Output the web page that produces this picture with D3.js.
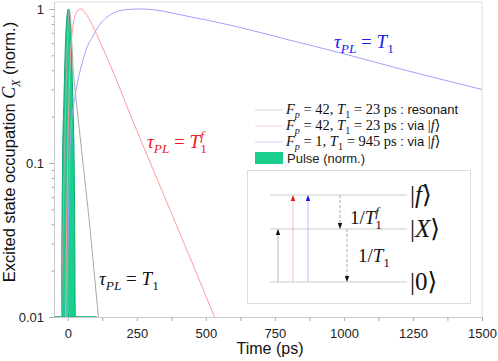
<!DOCTYPE html>
<html>
<head>
<meta charset="utf-8">
<script src="https://cdn.jsdelivr.net/npm/d3@7"></script>
<style>
body { margin: 0; background: #fff; }
</style>
</head>
<body>
<div id="chart"></div>
<script>
// values (time in ps, normalised occupation)
var pulseT = [-50, -25, -23, -21, -19, -14, -8, -3, 2, 7, 12, 18, 23, 25, 27, 29, 105];
var pulseV = [1e-7, 0.002, 0.01, 0.04, 0.1, 0.26, 0.63, 0.9, 1.0, 0.9, 0.63, 0.26, 0.1, 0.04, 0.01, 0.002, 1e-7];

var grayT = [-50, -25, -20, -15, -10, -5, 0, 6, 10, 14, 18, 24, 30, 50, 76, 111, 130];
var grayV = [1e-6, 0.006, 0.02, 0.06, 0.16, 0.38, 0.72, 1.0, 0.86, 0.64, 0.45, 0.33, 0.26, 0.12, 0.045, 0.01, 0.0046];

var redT = [-20, -10, -5, 0, 5, 10, 16, 24, 34, 48, 62, 79, 115, 175, 234, 299, 400, 531, 560];
var redV = [0.0005, 0.005, 0.03, 0.12, 0.29, 0.52, 0.71, 0.87, 0.97, 1.0, 0.95, 0.85, 0.62, 0.35, 0.19, 0.1, 0.037, 0.01, 0.0074];

var blueT = [-10, -3, 2, 6, 12, 20, 30, 42, 54, 67, 90, 115, 151, 211, 260, 307, 417, 513, 622, 800, 985, 1200, 1500];
var blueV = [0.001, 0.01, 0.04, 0.09, 0.17, 0.23, 0.3, 0.38, 0.46, 0.55, 0.66, 0.79, 0.91, 0.99, 1.0, 0.99, 0.91, 0.84, 0.76, 0.63, 0.52, 0.41, 0.3];

var xTicks = [0, 250, 500, 750, 1000, 1250, 1500];
var xMinor = [125, 375, 625, 875, 1125, 1375];
var yTicks = [0.01, 0.1, 1];
var yTickLabels = ['0.01', '0.1', '1'];
var yMinor = [0.02, 0.03, 0.04, 0.05, 0.06, 0.07, 0.08, 0.09, 0.2, 0.3, 0.4, 0.5, 0.6, 0.7, 0.8, 0.9];

var width = 498, height = 361,
    margin = { top: 2, right: 16, bottom: 44, left: 54 },
    serif = '"Liberation Serif", "DejaVu Serif", serif',
    sans = '"Liberation Sans", Arial, sans-serif';

var chartWidth = width - margin.left - margin.right,
    chartHeight = height - margin.top - margin.bottom;

var x = d3.scaleLinear().domain([-50, 1500]).range([0, chartWidth]);
var y = d3.scaleLog().domain([0.01, 1.11]).range([chartHeight, 0]);
var yClamp = y.copy().clamp(true);

function zip(ts, vs) {
    return ts.map(function (t, i) { return { t: t, v: vs[i] }; });
}

// builds a text made of roman / italic / sub / sup pieces
function mathText(parent, px, py, size, color, parts, anchor) {
    var t = parent.append('text')
        .attr('x', px).attr('y', py)
        .attr('fill', color)
        .attr('text-anchor', anchor || 'start')
        .style('font-size', size + 'px');
    var base = 0, lastW = 0;
    parts.forEach(function (p) {
        var off = p.sub ? size * 0.28 : (p.sup ? -size * 0.42 : 0);
        var fs = p.fs ? p.fs : ((p.sub || p.sup) ? size * 0.7 : size);
        var s = t.append('tspan')
            .attr('dy', off - base)
            .style('font-size', fs + 'px')
            .style('font-family', p.sans ? sans : serif)
            .style('font-style', p.i ? 'italic' : 'normal')
            .text(p.t);
        if (p.stack) s.attr('dx', -lastW);
        base = off;
        lastW = s.node().getComputedTextLength();
    });
    return t;
}

var svg = d3.select('#chart').append('svg')
    .attr('width', width)
    .attr('height', height);

svg.append('defs').append('clipPath').attr('id', 'plotClip')
    .append('rect').attr('width', chartWidth).attr('height', chartHeight);

var g = svg.append('g')
    .attr('transform', 'translate(' + margin.left + ',' + margin.top + ')');

// frame top / right
g.append('path')
    .attr('d', 'M0,0H' + chartWidth + 'V' + chartHeight)
    .attr('fill', 'none').attr('stroke', '#dddddd');

// axes
var xAxis = d3.axisBottom(x).tickValues(xTicks).tickSize(4).tickPadding(8).tickSizeOuter(0)
    .tickFormat(d3.format('d'));
var xAxisMinor = d3.axisBottom(x).tickValues(xMinor).tickSize(4).tickFormat('').tickSizeOuter(0);
var yAxis = d3.axisLeft(y).tickValues(yTicks).tickSize(5).tickPadding(5).tickSizeOuter(0)
    .tickFormat(function (d, i) { return yTickLabels[i]; });
var yAxisMinor = d3.axisLeft(y).tickValues(yMinor).tickSize(2.5).tickFormat('').tickSizeOuter(0);

[[xAxis, 'x'], [xAxisMinor, 'x'], [yAxis, 'y'], [yAxisMinor, 'y']].forEach(function (a) {
    var ax = g.append('g')
        .attr('transform', a[1] == 'x' ? 'translate(0,' + chartHeight + ')' : null)
        .call(a[0]);
    ax.select('.domain').attr('stroke', '#cccccc');
    ax.selectAll('.tick line').attr('stroke', '#aaaaaa');
    ax.selectAll('.tick text').attr('fill', '#222').style('font-family', sans).style('font-size', '13px');
});

// pulse
var plot = g.append('g').attr('clip-path', 'url(#plotClip)');

var area = d3.area()
    .x(function (d) { return x(d.t); })
    .y0(chartHeight)
    .y1(function (d) { return yClamp(d.v); })
    .curve(d3.curveMonotoneX);

plot.append('path')
    .datum(zip(pulseT, pulseV))
    .attr('d', area)
    .attr('fill', '#19cf8b')
    .attr('stroke', '#0aa872')
    .attr('stroke-width', 1);

var line = d3.line()
    .x(function (d) { return x(d.t); })
    .y(function (d) { return y(d.v); })
    .curve(d3.curveMonotoneX);

var curves = [
    { t: grayT, v: grayV, color: '#a8a8a8' },
    { t: redT, v: redV, color: '#ff9a9a' },
    { t: blueT, v: blueV, color: '#a0a0ff' }
];

plot.selectAll('path.curve').data(curves).enter()
    .append('path')
    .attr('class', 'curve')
    .attr('d', function (d) { return line(zip(d.t, d.v)); })
    .attr('fill', 'none')
    .attr('stroke', function (d) { return d.color; })
    .attr('stroke-width', 1);

// annotations
var tauPL = [{ t: '\u03c4', i: true }, { t: 'PL', i: true, sub: true }, { t: '\u00a0=\u00a0' }, { t: 'T', i: true }, { t: '1', sub: true }];
mathText(svg, 334, 48, 19, '#1a1aee', tauPL);
mathText(svg, 147, 148, 19, '#ee1a1a', tauPL.concat([{ t: 'f', i: true, sup: true, stack: true }]));
mathText(svg, 99, 285, 19, '#111', tauPL);

// legend
var legendRows = [
    { color: '#d4d4d4', parts: [{ t: 'F', i: true }, { t: 'p', i: true, sub: true }, { t: '\u00a0=\u00a042,\u00a0' }, { t: 'T', i: true }, { t: '1', sub: true }, { t: '\u00a0=\u00a023\u00a0ps' }, { t: ' : resonant', sans: true, fs: 13 }] },
    { color: '#ffcfcf', parts: [{ t: 'F', i: true }, { t: 'p', i: true, sub: true }, { t: '\u00a0=\u00a042,\u00a0' }, { t: 'T', i: true }, { t: '1', sub: true }, { t: '\u00a0=\u00a023\u00a0ps' }, { t: ' : via ', sans: true, fs: 13 }, { t: '|' }, { t: 'f', i: true }, { t: '\u27e9' }] },
    { color: '#cfcfff', parts: [{ t: 'F', i: true }, { t: 'p', i: true, sub: true }, { t: '\u00a0=\u00a01,\u00a0' }, { t: 'T', i: true }, { t: '1', sub: true }, { t: '\u00a0=\u00a0945\u00a0ps' }, { t: ' : via ', sans: true, fs: 13 }, { t: '|' }, { t: 'f', i: true }, { t: '\u27e9' }] }
];

legendRows.forEach(function (r, i) {
    var ly = 110 + i * 16;
    svg.append('line')
        .attr('x1', 255).attr('x2', 283).attr('y1', ly).attr('y2', ly)
        .attr('stroke', r.color).attr('stroke-width', 1);
    mathText(svg, 286, ly + 4, 14.5, '#111', r.parts);
});
svg.append('rect')
    .attr('x', 255).attr('y', 152).attr('width', 28).attr('height', 12)
    .attr('fill', '#19cf8b');
svg.append('text')
    .attr('x', 287).attr('y', 163)
    .attr('fill', '#222')
    .style('font-family', sans).style('font-size', '13px')
    .text('Pulse (norm.)');

// inset: level scheme
var inset = svg.append('g');
inset.append('rect')
    .attr('x', 247.5).attr('y', 170.5).attr('width', 223).attr('height', 133)
    .attr('fill', '#fff').attr('stroke', '#dddddd');

var levels = [{ y: 195, label: 'f', i: true }, { y: 229, label: 'X', i: true }, { y: 282, label: '0', i: false }];
levels.forEach(function (l) {
    inset.append('line')
        .attr('x1', 270).attr('x2', 407).attr('y1', l.y).attr('y2', l.y)
        .attr('stroke', '#cccccc');
    mathText(inset, 410, l.y + 8, 25, '#111', [{ t: '|' }, { t: l.label, i: l.i }, { t: '\u27e9' }]);
});

function arrow(xp, y0, y1, lineColor, headColor, dashed) {
    var dir = y1 < y0 ? 1 : -1;
    inset.append('line')
        .attr('x1', xp).attr('x2', xp).attr('y1', y0).attr('y2', y1 + dir * 5)
        .attr('stroke', lineColor)
        .attr('stroke-dasharray', dashed ? '3,2' : null);
    inset.append('path')
        .attr('d', 'M' + xp + ',' + y1 + 'L' + (xp - 2.2) + ',' + (y1 + dir * 6) + 'L' + (xp + 2.2) + ',' + (y1 + dir * 6) + 'Z')
        .attr('fill', headColor);
}
arrow(278, 282, 229, '#bbbbbb', '#111', false);
arrow(293, 282, 195, '#ffbbbb', '#ee1111', false);
arrow(308, 282, 195, '#bbbbff', '#1111ee', false);
arrow(340, 195, 229, '#aaaaaa', '#111', true);
arrow(347, 229, 282, '#aaaaaa', '#111', true);

mathText(inset, 350, 224, 19, '#111', [{ t: '1/' }, { t: 'T', i: true }, { t: '1', sub: true }, { t: 'f', i: true, sup: true, stack: true }]);
mathText(inset, 358, 262, 19, '#111', [{ t: '1/' }, { t: 'T', i: true }, { t: '1', sub: true }]);

// axis titles
svg.append('text')
    .attr('x', 270).attr('y', 354)
    .attr('text-anchor', 'middle')
    .attr('fill', '#111')
    .style('font-family', sans).style('font-size', '16px')
    .text('Time (ps)');

mathText(svg, 0, 0, 16.5, '#111', [
    { t: 'Excited state occupation ', sans: true },
    { t: 'C', i: true, fs: 18 },
    { t: 'X', i: true, sub: true },
    { t: ' (norm.)', sans: true }
], 'middle').attr('transform', 'translate(15,152) rotate(-90)');
</script>
</body>
</html>
